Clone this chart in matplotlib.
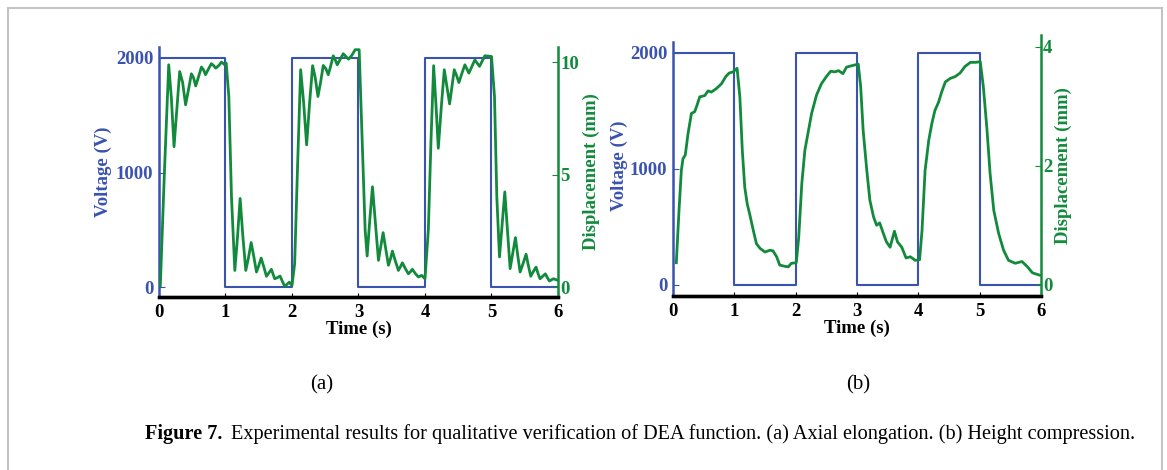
import numpy as np
import matplotlib
matplotlib.use("Agg")
import matplotlib.pyplot as plt
from matplotlib.patches import Rectangle

plt.rcParams['font.family'] = ['Liberation Serif', 'DejaVu Serif']

BLUE = '#3a52b0'
GREEN = '#128a3c'

# square wave voltage, same for both panels
volt_t = [0, 0, 1, 1, 2, 2, 3, 3, 4, 4, 5, 5, 6]
volt_v = [0, 2000, 2000, 0, 0, 2000, 2000, 0, 0, 2000, 2000, 0, 0]

# (a) axial elongation, displacement in mm
a_t = [0.02, 0.08, 0.146, 0.186, 0.226, 0.27, 0.311, 0.355, 0.40, 0.445, 0.487,
       0.52, 0.552, 0.595, 0.638, 0.67, 0.70, 0.745, 0.788, 0.82, 0.853, 0.90,
       0.94, 0.99, 1.01, 1.05, 1.09, 1.14, 1.18, 1.22, 1.26, 1.305, 1.345, 1.386,
       1.426, 1.466, 1.50, 1.536, 1.576, 1.616, 1.65, 1.69, 1.74, 1.78, 1.82,
       1.89, 1.96, 2.0, 2.04, 2.085, 2.13, 2.175, 2.22, 2.265, 2.31, 2.35, 2.39,
       2.43, 2.47, 2.51, 2.545, 2.58, 2.62, 2.65, 2.68, 2.72, 2.77, 2.81, 2.85,
       2.90, 2.95, 3.01, 3.05, 3.10, 3.13, 3.17, 3.21, 3.255, 3.30, 3.335, 3.37,
       3.41, 3.45, 3.48, 3.51, 3.555, 3.60, 3.63, 3.66, 3.705, 3.75, 3.78, 3.81,
       3.855, 3.90, 3.95, 4.0, 4.05, 4.09, 4.13, 4.165, 4.20, 4.245, 4.29, 4.33,
       4.37, 4.405, 4.44, 4.475, 4.51, 4.555, 4.60, 4.63, 4.66, 4.705, 4.75,
       4.785, 4.82, 4.86, 4.90, 5.0, 5.045, 5.08, 5.12, 5.16, 5.20, 5.24, 5.28,
       5.32, 5.36, 5.395, 5.43, 5.475, 5.52, 5.555, 5.59, 5.63, 5.67, 5.70,
       5.73, 5.77, 5.81, 5.84, 5.87, 5.93, 6.0]
a_d = [0.07, 5.0, 9.88, 8.4, 6.24, 8.0, 9.58, 9.1, 8.10, 8.8, 9.48,
       9.3, 8.94, 9.35, 9.78, 9.65, 9.44, 9.7, 9.93, 9.85, 9.73, 9.85,
       10.0, 9.88, 9.96, 8.47, 4.0, 0.74, 2.2, 3.94, 2.3, 0.74, 1.3, 1.98,
       1.35, 0.67, 0.95, 1.29, 0.9, 0.48, 0.62, 0.79, 0.37, 0.42, 0.49,
       0.03, 0.22, 0.07, 1.04, 5.5, 9.66, 8.2, 6.32, 8.2, 9.84, 9.3, 8.47,
       9.1, 9.85, 9.7, 9.44, 9.8, 10.28, 10.1, 9.88, 10.1, 10.37, 10.25, 10.13,
       10.3, 10.55, 10.55, 6.98, 2.53, 1.38, 3.0, 4.46, 2.8, 1.19, 1.8, 2.42,
       1.7, 0.97, 1.25, 1.60, 1.15, 0.74, 0.9, 1.08, 0.82, 0.59, 0.68, 0.79,
       0.6, 0.45, 0.52, 0.37, 2.53, 6.5, 9.84, 8.1, 6.17, 8.0, 9.66, 8.9,
       8.14, 8.9, 9.66, 9.4, 9.09, 9.5, 9.88, 9.7, 9.51, 9.8, 10.1,
       9.95, 9.81, 10.05, 10.28, 10.25, 8.47, 4.0, 1.34, 2.8, 4.23, 2.5, 0.82,
       1.5, 2.20, 1.4, 0.67, 1.05, 1.46, 0.95, 0.48, 0.7, 0.89, 0.6,
       0.37, 0.48, 0.59, 0.42, 0.27, 0.37, 0.30]

# (b) height compression, displacement in mm
b_t = [0.054, 0.098, 0.136, 0.163, 0.20, 0.245, 0.30, 0.354, 0.392, 0.436, 0.517,
       0.572, 0.626, 0.708, 0.79, 0.86, 0.915, 0.98, 1.045, 1.09, 1.13, 1.17,
       1.21, 1.25, 1.31, 1.36, 1.42, 1.50, 1.58, 1.63, 1.69, 1.74, 1.82, 1.88,
       1.93, 2.01, 2.05, 2.10, 2.15, 2.21, 2.26, 2.34, 2.42, 2.50, 2.57, 2.64,
       2.70, 2.77, 2.83, 2.94, 3.02, 3.06, 3.10, 3.16, 3.21, 3.27, 3.32, 3.37,
       3.43, 3.48, 3.54, 3.61, 3.66, 3.73, 3.80, 3.87, 3.95, 4.02, 4.06, 4.11,
       4.17, 4.22, 4.27, 4.33, 4.38, 4.44, 4.52, 4.60, 4.68, 4.76, 4.85, 4.93,
       5.01, 5.06, 5.12, 5.17, 5.23, 5.31, 5.39, 5.47, 5.58, 5.69, 5.78, 5.86,
       5.98]
b_d = [0.37, 1.25, 1.92, 2.12, 2.18, 2.54, 2.88, 2.91, 3.02, 3.16, 3.18,
       3.26, 3.24, 3.30, 3.38, 3.50, 3.56, 3.58, 3.64, 3.16, 2.26, 1.64,
       1.36, 1.19, 0.91, 0.69, 0.61, 0.55, 0.58, 0.57, 0.47, 0.33, 0.31, 0.30,
       0.36, 0.37, 0.80, 1.70, 2.26, 2.60, 2.88, 3.19, 3.38, 3.50, 3.59, 3.58,
       3.60, 3.55, 3.66, 3.69, 3.71, 3.33, 2.60, 1.92, 1.42, 1.14, 1.00, 1.04,
       0.86, 0.72, 0.63, 0.90, 0.72, 0.63, 0.45, 0.47, 0.41, 0.42, 0.91, 1.92,
       2.43, 2.71, 2.93, 3.07, 3.24, 3.41, 3.47, 3.50, 3.56, 3.67, 3.74, 3.74,
       3.75, 3.33, 2.60, 1.87, 1.25, 0.86, 0.58, 0.41, 0.36, 0.39, 0.30, 0.20,
       0.16]

x_ticks = [0, 1, 2, 3, 4, 5, 6]
v_ticks = [0, 1000, 2000]
a_d_ticks = [0, 5, 10]
b_d_ticks = [0, 2, 4]

fig = plt.figure(figsize=(11.67, 4.70), dpi=100)
fig.patches.append(Rectangle((8 / 1167, -0.1), (1162 - 8) / 1167, 1.1 - 8 / 470,
                             transform=fig.transFigure, fill=False,
                             edgecolor='#c4c4c4', linewidth=1.5))

tfont = dict(fontsize=13.5, fontweight='bold')


def panel(rect, d_t, d_d, vlim, dlim, dticks, vlabel_x, dlabel_x, vtop):
    ax = fig.add_axes(rect)
    ax2 = ax.twinx()
    ax.plot(volt_t, volt_v, color=BLUE, lw=1.5, zorder=2)
    ax2.plot(d_t, d_d, color=GREEN, lw=2.0)
    ax.set_xlim(0, 6)
    ax.set_ylim(*vlim)
    ax2.set_ylim(*dlim)
    ax.set_xticks(x_ticks)
    ax.set_yticks(v_ticks)
    ax2.set_yticks(dticks)
    for a in (ax, ax2):
        a.spines['top'].set_visible(False)
        a.spines['bottom'].set_linewidth(2.4)
        a.spines['bottom'].set_color('black')
        a.set_facecolor('none')
    ax.spines['right'].set_visible(False)
    ax2.spines['left'].set_visible(False)
    ax.spines['left'].set_color(BLUE)
    ax.spines['left'].set_linewidth(1.8)
    ax.spines['left'].set_bounds(vlim[0], vtop)
    ax2.spines['right'].set_color(GREEN)
    ax2.spines['right'].set_linewidth(1.8)
    ax.tick_params(axis='x', direction='in', length=3, pad=5, labelsize=13.5)
    ax.tick_params(axis='y', direction='in', length=4, pad=4, colors=BLUE,
                   labelsize=13.5)
    ax2.tick_params(axis='y', direction='in', length=4, pad=1.5, colors=GREEN,
                    labelsize=13.5)
    for lab in ax.get_xticklabels() + ax.get_yticklabels() + ax2.get_yticklabels():
        lab.set_fontweight('bold')
    ax.set_xlabel('Time (s)', labelpad=0, **tfont)
    ax.set_ylabel('Voltage (V)', color=BLUE, **tfont)
    ax2.set_ylabel('Displacement (mm)', color=GREEN, **tfont)
    ax.yaxis.set_label_coords(vlabel_x, 0.5)
    ax2.yaxis.set_label_coords(dlabel_x, 0.5)
    return ax, ax2


panel([159 / 1167, 1 - 297 / 470, 399 / 1167, 250 / 470], a_t, a_d,
      (-87, 2096), (-0.44, 10.67), a_d_ticks, -0.118, 1.063, 2096)
panel([673 / 1167, 1 - 296 / 470, 368 / 1167, 261 / 470], b_t, b_d,
      (-98, 2153), (-0.19, 4.2), b_d_ticks, -0.122, 1.038, 2095)

fig.text(322 / 1167, 1 - 385 / 470, '(a)', fontsize=15, ha='center', va='center')
fig.text(858 / 1167, 1 - 385 / 470, '(b)', fontsize=15, ha='center', va='center')

fig.text(145 / 1167, 1 - 434 / 470, 'Figure 7.', fontsize=14.6,
         fontweight='bold', ha='left', va='center')
fig.text(231 / 1167, 1 - 434 / 470,
         'Experimental results for qualitative verification of DEA function. '
         '(a) Axial elongation. (b) Height compression.',
         fontsize=14.6, ha='left', va='center')

fig.savefig('out.png', dpi=100)
